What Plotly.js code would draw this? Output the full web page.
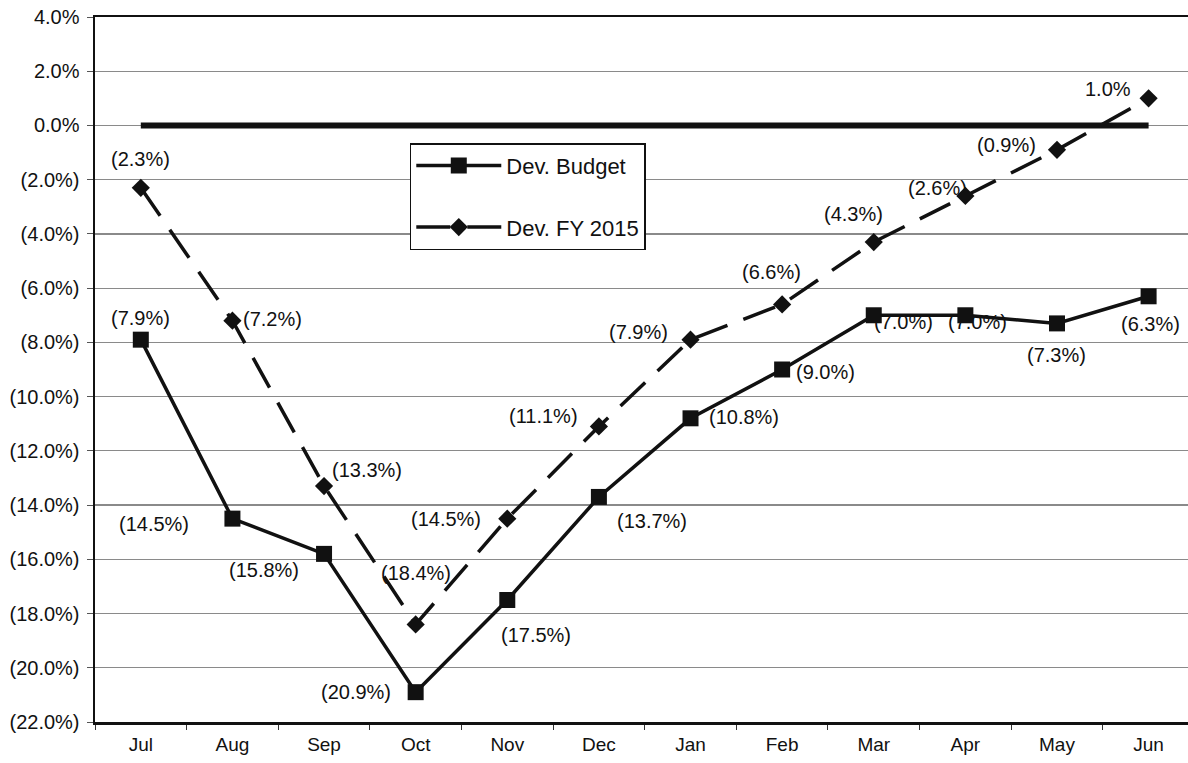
<!DOCTYPE html>
<html>
<head>
<meta charset="utf-8">
<script src="https://cdn.plot.ly/plotly-3.0.1.min.js"></script>
<style>
  html, body { margin: 0; padding: 0; background: #fff; }
  #chart { width: 1188px; height: 763px; }
</style>
</head>
<body>
<div id="chart"></div>
<script>
// DATA
const months = ["Jul", "Aug", "Sep", "Oct", "Nov", "Dec", "Jan", "Feb", "Mar", "Apr", "May", "Jun"];
const devBudget = [-7.9, -14.5, -15.8, -20.9, -17.5, -13.7, -10.8, -9.0, -7.0, -7.0, -7.3, -6.3];
const devFY2015 = [-2.3, -7.2, -13.3, -18.4, -14.5, -11.1, -7.9, -6.6, -4.3, -2.6, -0.9, 1.0];
const target = [0, 0, 0, 0, 0, 0, 0, 0, 0, 0, 0, 0];
const yTickVals = [4, 2, 0, -2, -4, -6, -8, -10, -12, -14, -16, -18, -20, -22];

// label text: negatives in parentheses
function pct(v) {
    let s = Math.abs(v).toFixed(1) + "%";
    return v < 0 ? "(" + s + ")" : s;
}
const yTickText = yTickVals.map(pct);

// label offsets in pixels [dx, dy] (dy positive = down)
const budgetOffsets = [[0,-22],[-78,5],[-60,16],[-60,0],[29,35],[53,24],[53,-1],[43,2],[30,7],[12,7],[0,32],[2,28]];
const fyOffsets = [[0,-29],[40,-2],[43,-16],[0,-51],[-61,0],[-55,-10],[-52,-8],[-11,-32],[-20,-28],[-28,-8],[-50,-5],[-41,-9]];

const FONT = "Liberation Sans, Arial, sans-serif";

function labels(vals, offs) {
    return vals.map((v, i) => ({
        x: months[i], y: v, xref: 'x', yref: 'y',
        text: pct(v), showarrow: false,
        xshift: offs[i][0], yshift: -offs[i][1],
        font: { family: FONT, size: 20, color: '#111' }
    }));
}

let traceTarget = {
    x: months, y: target, mode: 'lines', name: 'Target', showlegend: false,
    line: { color: '#111', width: 6 }, hoverinfo: 'skip'
};

let traceBudget = {
    x: months, y: devBudget, mode: 'lines+markers', name: 'Dev. Budget', legendgroup: 'a',
    line: { color: '#111', width: 3.5 },
    marker: { symbol: 'square', size: 16, color: '#111' }
};

let traceFY = {
    x: months, y: devFY2015, mode: 'lines+markers', name: 'Dev. FY 2015', legendgroup: 'b',
    line: { color: '#111', width: 3.5, dash: '34px,17px' },
    marker: { symbol: 'diamond', size: 14, color: '#111' }
};

let layout = {
    width: 1188, height: 763,
    margin: { l: 95, r: 0, t: 17, b: 41 },
    paper_bgcolor: '#fff', plot_bgcolor: '#fff',
    font: { family: FONT, size: 20, color: '#111' },
    xaxis: {
        type: 'category', range: [-0.5, 11.43],
        tickson: 'boundaries', ticks: 'outside', ticklen: 5, tickcolor: '#333',
        showgrid: false, zeroline: false,
        showline: true, linecolor: '#111', linewidth: 2.5, mirror: true,
        tickfont: { family: FONT, size: 19, color: '#111' },
        ticklabelstandoff: 4
    },
    yaxis: {
        range: [-22, 4], tickvals: yTickVals, ticktext: yTickText,
        ticks: 'outside', ticklen: 6, tickcolor: '#555',
        showgrid: true, gridcolor: '#8a8a8a', gridwidth: 1.2, zeroline: false,
        showline: true, linecolor: '#111', linewidth: 2.5,
        tickfont: { family: FONT, size: 20, color: '#111' },
        ticklabelstandoff: 3
    },
    showlegend: true,
    legend: {
        x: 0.288, y: 0.821, xanchor: 'left', yanchor: 'top',
        bgcolor: '#fff', bordercolor: '#111', borderwidth: 1.5,
        font: { family: FONT, size: 22, color: '#111' },
        traceorder: 'grouped', tracegroupgap: 30,
        itemwidth: 85
    },
    annotations: labels(devBudget, budgetOffsets).concat(labels(devFY2015, fyOffsets))
};

Plotly.newPlot('chart', [traceTarget, traceBudget, traceFY], layout, { displayModeBar: false, staticPlot: true });
</script>
</body>
</html>
